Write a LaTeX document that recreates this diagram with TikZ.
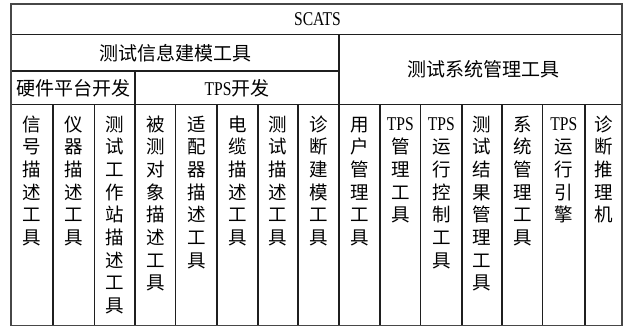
\documentclass[tikz,border=0pt]{standalone}
\usepackage{fontspec}
\setmainfont{Liberation Serif}
\newfontfamily\cjk{Noto Sans CJK SC}
\newfontfamily\latc[FakeStretch=0.8]{Liberation Serif}
\newcommand\lat[1]{\raisebox{0.5pt}{\latc\fontsize{19.5}{19.5}\selectfont #1}}
\begin{document}
\begin{tikzpicture}[x=1pt,y=-1pt]
\tikzset{
  outerline/.style={line width=2pt, draw=black!72},
  innerline/.style={line width=1.1pt, draw=black!88},
  headtext/.style={font=\cjk\fontsize{19}{19}\selectfont, inner sep=0pt, anchor=center},
  coltext/.style={font=\cjk\fontsize{18.5}{18.5}\selectfont, inner sep=0pt, anchor=base},
}
\useasboundingbox (0,0) rectangle (627,325);
% inner rules
\draw[innerline] (11,34.5) -- (622,34.5);
\draw[innerline] (11,71) -- (339,71);
\draw[innerline] (11,104.5) -- (622,104.5);
\draw[innerline] (339,34.5) -- (339,326);
\draw[innerline] (135,71) -- (135,326);
\foreach \vx in {53,94.5,175.5,217,258,298,380,420.5,462,502,542.5,585}
  \draw[innerline] (\vx,104.5) -- (\vx,326);
% outer frame
\draw[outerline] (11,4) rectangle (622,325.5);
% headers
\node[headtext] (scats) at (317.5,19) {\latc\fontsize{19.5}{19.5}\selectfont SCATS};
\node[headtext] (info) at (175.5,53) {测试信息建模工具};
\node[headtext] (hw) at (73.5,88) {硬件平台开发};
\node[headtext] (tps) at (237,88) {{\latc\fontsize{19.5}{19.5}\selectfont TPS}开发};
\node[headtext] (sys) at (483,69.5) {测试系统管理工具};
% columns
\foreach \cx/\chars [count=\k] in {
  32/{信,号,描,述,工,具},
  73.75/{仪,器,描,述,工,具},
  114.75/{测,试,工,作,站,描,述,工,具},
  155.25/{被,测,对,象,描,述,工,具},
  196.25/{适,配,器,描,述,工,具},
  237.5/{电,缆,描,述,工,具},
  278/{测,试,描,述,工,具},
  318.5/{诊,断,建,模,工,具},
  359.5/{用,户,管,理,工,具},
  400.25/{\lat{TPS},管,理,工,具},
  441.25/{\lat{TPS},运,行,控,制,工,具},
  482/{测,试,结,果,管,理,工,具},
  522.25/{系,统,管,理,工,具},
  563.75/{\lat{TPS},运,行,引,擎},
  603.5/{诊,断,推,理,机}}
{
  \foreach \c [count=\i] in \chars
    \node[coltext] (c\k-\i) at (\cx,{131+22.7*(\i-1)}) {\c};
}
\end{tikzpicture}
\end{document}
